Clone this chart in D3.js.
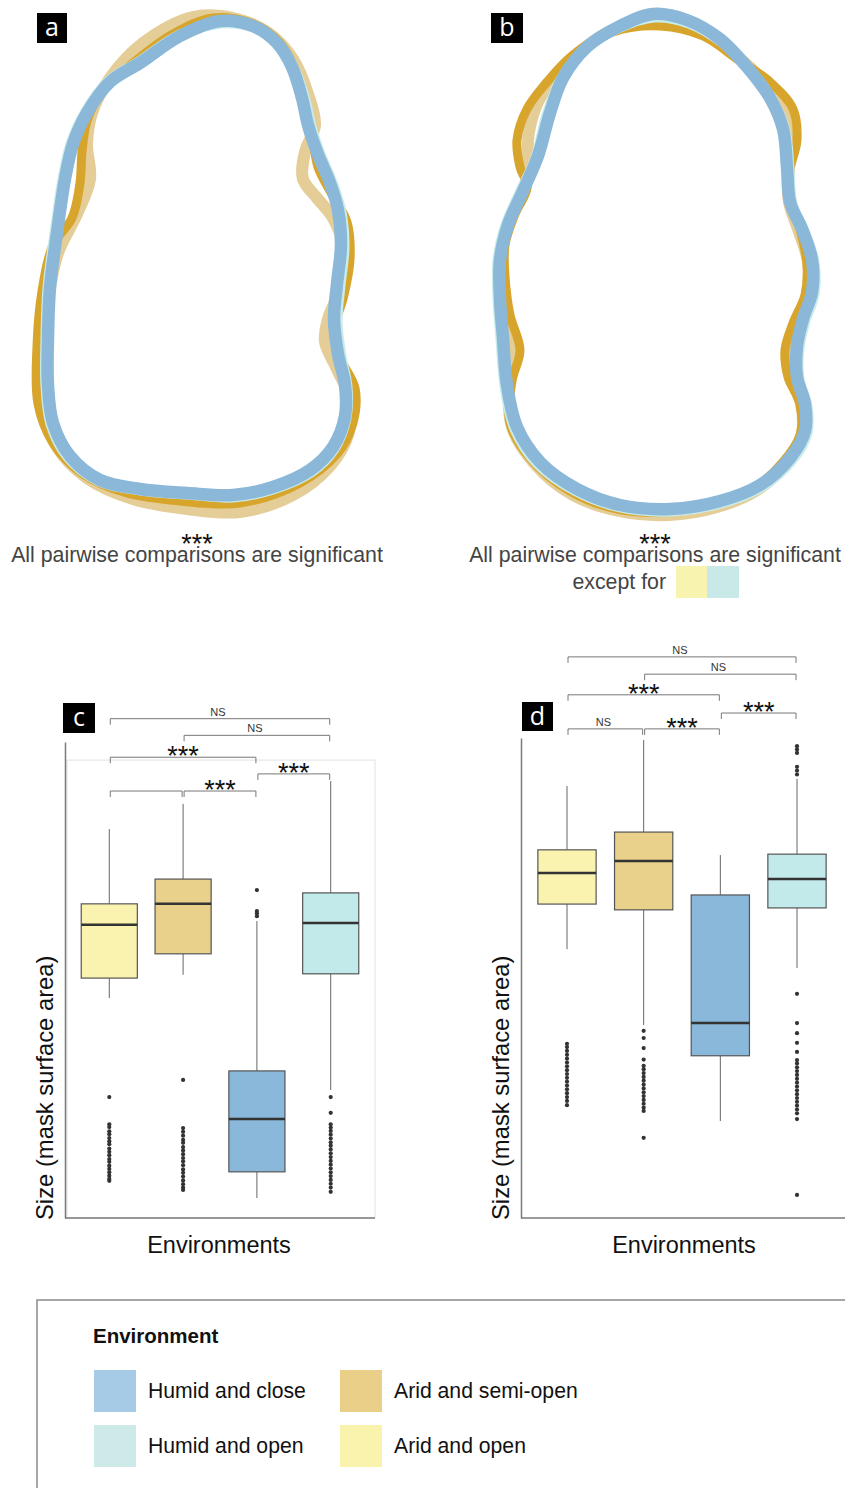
<!DOCTYPE html>
<html>
<head>
<meta charset="utf-8">
<script src="https://cdn.jsdelivr.net/npm/d3@7"></script>
<style>
  html, body { margin: 0; padding: 0; background: #ffffff; }
  svg { display: block; }
</style>
</head>
<body>
<div id="chart"></div>
<script>
// ---------------- DATA ----------------
const categories = ["Arid and open", "Arid and semi-open", "Humid and close", "Humid and open"];
const boxFills = ["#faf3b0", "#e9d08b", "#8ab8da", "#c3eaea"];

// Mean outlines (relative shape coordinates, centred on the shape centroid)
const outlineA_tan = [[-4,-241],[36,-240],[70,-226],[96,-199],[111,-164],[118,-133],[108,-106],[106,-79],[120,-60],[136,-40],[146,-13],[145,26],[131,61],[128,84],[140,111],[153,142],[151,177],[133,208],[96,237],[43,254],[-10,251],[-64,241],[-110,220],[-140,189],[-154,146],[-155,96],[-149,41],[-139,-5],[-120,-44],[-107,-79],[-110,-114],[-105,-145],[-87,-180],[-54,-215]];
const outlineA_gold = [[16,-240],[56,-234],[83,-215],[100,-184],[110,-149],[116,-118],[121,-91],[133,-67],[150,-36],[153,2],[146,41],[138,68],[143,99],[158,130],[156,165],[140,196],[103,225],[43,245],[-17,243],[-70,235],[-114,216],[-144,185],[-159,146],[-160,88],[-155,33],[-144,-13],[-125,-40],[-117,-75],[-115,-106],[-110,-137],[-94,-168],[-64,-195],[-24,-224]];
const outlineA_cyan = [[25,-235],[58,-230],[82,-213],[97,-189],[108,-158],[114,-131],[123,-104],[136,-73],[144,-46],[147,-11],[143,28],[140,63],[144,98],[150,129],[149,160],[137,191],[114,214],[76,231],[36,239],[-10,236],[-57,232],[-98,223],[-129,199],[-146,166],[-151,127],[-151,80],[-149,30],[-142,-25],[-134,-79],[-126,-114],[-112,-145],[-89,-176],[-58,-196],[-17,-223]];
const outlineA_blue = [[23,-237],[56,-232],[80,-215],[95,-191],[105,-160],[111,-133],[120,-106],[133,-75],[141,-48],[144,-13],[140,26],[137,61],[141,96],[148,127],[148,158],[136,189],[113,212],[76,229],[36,237],[-10,235],[-57,231],[-97,222],[-127,198],[-144,165],[-149,127],[-149,80],[-147,30],[-140,-25],[-132,-79],[-124,-114],[-110,-145],[-87,-176],[-57,-195],[-17,-222]];

const outlineB_tan = [[2,-240],[40,-232],[74,-212],[104,-186],[128,-158],[136,-127],[133,-93],[134,-60],[143,-33],[153,0],[152,32],[142,60],[134,87],[136,115],[146,142],[147,172],[132,200],[102,228],[62,245],[14,253],[-36,249],[-82,233],[-121,201],[-143,165],[-146,121],[-140,84],[-149,47],[-153,10],[-152,-20],[-144,-45],[-130,-72],[-128,-100],[-126,-130],[-117,-160],[-100,-185],[-76,-210],[-38,-234]];
const outlineB_gold = [[5,-236],[48,-226],[82,-203],[115,-180],[138,-153],[142,-122],[135,-91],[137,-60],[145,-33],[152,2],[150,33],[138,61],[130,88],[133,115],[145,142],[145,173],[128,200],[98,227],[58,243],[12,250],[-38,247],[-85,229],[-125,196],[-145,161],[-143,119],[-135,88],[-145,53],[-150,14],[-150,-17],[-140,-48],[-128,-75],[-135,-95],[-138,-122],[-128,-153],[-108,-180],[-82,-207],[-42,-230]];
const outlineB_cyan = [[0,-245],[34,-239],[67,-220],[94,-193],[117,-162],[130,-131],[134,-93],[137,-58],[149,-31],[159,0],[159,32],[150,59],[144,86],[144,117],[152,144],[152,171],[137,198],[106,225],[66,241],[15,249],[-35,245],[-79,229],[-117,202],[-140,167],[-150,124],[-154,77],[-157,37],[-157,-2],[-149,-37],[-134,-71],[-119,-104],[-108,-147],[-94,-182],[-70,-213],[-37,-234]];
const outlineB_blue = [[-2,-248],[32,-242],[65,-223],[92,-195],[115,-164],[128,-133],[132,-95],[135,-60],[147,-33],[157,-2],[157,30],[148,57],[142,84],[142,115],[150,142],[150,169],[135,196],[105,223],[65,239],[15,247],[-35,243],[-78,227],[-115,200],[-138,165],[-148,123],[-152,76],[-155,37],[-155,-2],[-147,-37],[-132,-71],[-117,-106],[-105,-149],[-92,-184],[-68,-215],[-35,-236]];

// Boxplot statistics, panel c (size, arbitrary units)
const c_q1 = [50.4, 55.5, 9.7, 51.3];
const c_median = [61.6, 66.0, 20.8, 62.0];
const c_q3 = [66.0, 71.2, 30.9, 68.3];
const c_whiskerLow = [46.2, 51.1, 4.2, 26.9];
const c_whiskerHigh = [81.7, 87.0, 62.4, 91.8];
const c_outliers = [
  [25.4, 19.7, 19.1, 18.2, 17.6, 16.8, 16.1, 15.5, 14.6, 13.9, 13.2, 12.4, 11.8, 11.0, 10.3, 9.6, 8.9, 8.2, 7.8],
  [29.0, 18.9, 18.1, 17.3, 16.4, 15.8, 14.9, 14.2, 13.4, 12.6, 11.9, 11.1, 10.2, 9.5, 8.7, 7.9, 7.1, 6.4, 5.9],
  [68.9, 64.5, 64.0, 63.4],
  [25.4, 22.1, 19.7, 19.0, 18.3, 17.5, 16.7, 15.9, 15.2, 14.4, 13.6, 12.8, 12.0, 11.2, 10.4, 9.6, 8.8, 8.0, 7.2, 6.4, 5.5]
];
const c_brackets = [
  {from: 0, to: 3, level: 104.9, label: "NS"},
  {from: 1, to: 3, level: 101.4, label: "NS"},
  {from: 0, to: 2, level: 96.8, label: "***"},
  {from: 2, to: 3, level: 93.3, label: "***"},
  {from: 0, to: 1, level: 89.7, label: ""},
  {from: 1, to: 2, level: 89.7, label: "***"}
];

// Boxplot statistics, panel d
const d_q1 = [65.4, 64.2, 33.8, 64.6];
const d_median = [71.9, 74.4, 40.6, 70.6];
const d_q3 = [76.7, 80.4, 67.3, 75.8];
const d_whiskerLow = [56.0, 40.2, 20.2, 52.1];
const d_whiskerHigh = [90.0, 99.6, 75.6, 91.5];
const d_outliers = [
  [36.3, 35.6, 34.8, 34.0, 33.2, 32.4, 31.6, 30.8, 30.0, 29.2, 28.4, 27.6, 26.8, 26.0, 25.2, 24.4, 23.5],
  [39.0, 37.5, 35.4, 33.0, 31.7, 31.0, 30.2, 29.4, 28.6, 27.8, 27.0, 26.2, 25.4, 24.6, 23.8, 23.0, 22.3, 16.7],
  [],
  [98.3, 97.6, 96.9, 94.0, 93.2, 92.4, 46.7, 40.6, 38.5, 36.5, 34.6, 32.9, 32.2, 31.4, 30.6, 29.8, 29.0, 28.2, 27.4, 26.6, 25.8, 25.0, 24.2, 23.4, 22.6, 21.8, 20.6, 4.8]
];
const d_brackets = [
  {from: 0, to: 3, level: 116.9, label: "NS"},
  {from: 1, to: 3, level: 113.3, label: "NS"},
  {from: 0, to: 2, level: 109.0, label: "***"},
  {from: 2, to: 3, level: 105.2, label: "***"},
  {from: 0, to: 1, level: 101.9, label: "NS"},
  {from: 1, to: 2, level: 101.9, label: "***"}
];

// Legend
const legendLabels = ["Humid and close", "Humid and open", "Arid and semi-open", "Arid and open"];
const legendColors = ["#a6cbe6", "#cde9e8", "#e9cf88", "#f9f3ae"];

// ---------------- DRAWING ----------------
const W = 845, H = 1488;
const svg = d3.select("#chart").append("svg").attr("width", W).attr("height", H);
svg.append("rect").attr("width", W).attr("height", H).attr("fill", "#ffffff");

const SANS = "'Liberation Sans', Arial, Helvetica, sans-serif";

function panelLabel(x, y, w, h, letter) {
  svg.append("rect").attr("x", x).attr("y", y).attr("width", w).attr("height", h).attr("fill", "#000");
  svg.append("text").attr("x", x + w / 2).attr("y", y + h / 2 + 8).attr("text-anchor", "middle")
    .attr("fill", "#fff").attr("font-family", "'Open Sans', 'DejaVu Sans', sans-serif").attr("font-size", 25)
    .text(letter);
}

// ---- outline panels ----
function drawOutlines(cx, cy, layers) {
  const xs = d3.scaleLinear().domain([-200, 200]).range([cx - 200, cx + 200]);
  const ys = d3.scaleLinear().domain([-250, 250]).range([cy - 250, cy + 250]);
  const line = d3.line().x(d => xs(d[0])).y(d => ys(d[1])).curve(d3.curveCatmullRomClosed.alpha(0.5));
  const g = svg.append("g");
  layers.forEach(l => {
    g.append("path").attr("d", line(l.pts)).attr("fill", "none")
      .attr("stroke", l.color).attr("stroke-width", l.width).attr("stroke-linejoin", "round");
  });
}
drawOutlines(197, 258, [
  {pts: outlineA_tan, color: "#e4cd97", width: 12},
  {pts: outlineA_gold, color: "#d8a52c", width: 9},
  {pts: outlineA_cyan, color: "#c8ecea", width: 11},
  {pts: outlineA_blue, color: "#8bb8d9", width: 12.5}
]);
drawOutlines(655, 262, [
  {pts: outlineB_tan, color: "#e4cd97", width: 12},
  {pts: outlineB_gold, color: "#d8a52c", width: 9},
  {pts: outlineB_cyan, color: "#c8ecea", width: 11},
  {pts: outlineB_blue, color: "#8bb8d9", width: 12.5}
]);
panelLabel(37, 13, 30, 30, "a");
panelLabel(491, 13, 32, 30, "b");

// captions: stars and sentence stacked in one text block
function caption(cx) {
  const t = svg.append("text").attr("text-anchor", "middle").attr("font-family", SANS);
  t.append("tspan").attr("x", cx).attr("y", 553).attr("font-size", 27).attr("fill", "#111").text("***");
  t.append("tspan").attr("x", cx).attr("y", 562).attr("font-size", 21.3).attr("fill", "#444")
    .text("All pairwise comparisons are significant");
}
caption(197);
caption(655);
svg.append("text").attr("x", 666).attr("y", 589).attr("text-anchor", "end").attr("font-family", SANS)
  .attr("font-size", 21.3).attr("fill", "#444").text("except for");
svg.append("rect").attr("x", 676).attr("y", 566).attr("width", 31).attr("height", 32).attr("fill", "#f9f3b0");
svg.append("rect").attr("x", 707).attr("y", 566).attr("width", 32).attr("height", 32).attr("fill", "#c9e9e8");

// ---- boxplot panels ----
function drawBoxplot(opt) {
  const x = d3.scalePoint().domain(categories).range(opt.xRange).padding(0.6);
  const y = d3.scaleLinear().domain([0, 100]).range(opt.yRange);
  const bw = x.step() * 0.76;
  const g = svg.append("g");

  if (opt.frame) {
    g.append("rect").attr("x", opt.xRange[0] + 2).attr("y", y(opt.frameTop))
      .attr("width", opt.xRange[1] - opt.xRange[0] - 2).attr("height", y(0) - y(opt.frameTop))
      .attr("fill", "none").attr("stroke", "#e2e2e2").attr("stroke-width", 1);
  }

  // axes (no ticks, no labels)
  const yAx = g.append("g").attr("transform", `translate(${opt.xRange[0]},0)`)
    .call(d3.axisLeft(y).tickValues([]).tickSizeOuter(0));
  yAx.select(".domain").attr("stroke", "#7a7a7a").attr("stroke-width", 1.5);
  const xAx = g.append("g").attr("transform", `translate(0,${opt.yRange[0]})`)
    .call(d3.axisBottom(x).tickValues([]).tickSizeOuter(0));
  xAx.select(".domain").attr("stroke", "#7a7a7a").attr("stroke-width", 1.5)
    .attr("d", `M${opt.xRange[0]},0H${opt.xEnd}`);

  categories.forEach((c, i) => {
    const cx = x(c);
    g.append("line").attr("x1", cx).attr("x2", cx).attr("y1", y(opt.hi[i])).attr("y2", y(opt.q3[i]))
      .attr("stroke", "#666").attr("stroke-width", 1);
    g.append("line").attr("x1", cx).attr("x2", cx).attr("y1", y(opt.q1[i])).attr("y2", y(opt.lo[i]))
      .attr("stroke", "#666").attr("stroke-width", 1);
    g.append("rect").attr("x", cx - bw / 2).attr("y", y(opt.q3[i])).attr("width", bw)
      .attr("height", y(opt.q1[i]) - y(opt.q3[i])).attr("fill", boxFills[i])
      .attr("stroke", "#555").attr("stroke-width", 1.2);
    g.append("line").attr("x1", cx - bw / 2).attr("x2", cx + bw / 2)
      .attr("y1", y(opt.med[i])).attr("y2", y(opt.med[i])).attr("stroke", "#333").attr("stroke-width", 2.5);
    g.selectAll(null).data(opt.out[i]).enter().append("circle")
      .attr("cx", cx).attr("cy", d => y(d)).attr("r", 2.1).attr("fill", "#333");
  });

  // significance brackets
  opt.brackets.forEach(b => {
    const x1 = x(categories[b.from]) + 1, x2 = x(categories[b.to]) - 1, yy = y(b.level);
    g.append("path").attr("d", `M${x1},${yy + 6}V${yy}H${x2}V${yy + 6}`)
      .attr("fill", "none").attr("stroke", "#777").attr("stroke-width", 1);
    if (b.label === "NS") {
      g.append("text").attr("x", (x1 + x2) / 2 - 2).attr("y", yy - 3).attr("text-anchor", "middle")
        .attr("font-family", SANS).attr("font-size", 11).attr("fill", "#333").text("NS");
    } else if (b.label) {
      g.append("text").attr("x", (x1 + x2) / 2).attr("y", yy + 8).attr("text-anchor", "middle")
        .attr("font-family", SANS).attr("font-size", 27).attr("fill", "#111").text(b.label);
    }
  });

  // axis titles
  g.append("text").attr("x", (opt.xRange[0] + opt.xEnd) / 2 + opt.titleShift).attr("y", 1253)
    .attr("text-anchor", "middle").attr("font-family", SANS).attr("font-size", 23.5).attr("fill", "#111")
    .text("Environments");
  g.append("text").attr("transform", `translate(${opt.xRange[0] - 12},${1220}) rotate(-90)`)
    .attr("text-anchor", "start").attr("font-family", SANS).attr("font-size", 23.8).attr("fill", "#111")
    .text("Size (mask surface area)");
}

drawBoxplot({
  xRange: [65, 375], xEnd: 375, yRange: [1218, 742], frame: true, frameTop: 96.2,
  q1: c_q1, med: c_median, q3: c_q3, lo: c_whiskerLow, hi: c_whiskerHigh, out: c_outliers,
  brackets: c_brackets, titleShift: -1
});
drawBoxplot({
  xRange: [521, 843], xEnd: 845, yRange: [1218, 738], frame: false,
  q1: d_q1, med: d_median, q3: d_q3, lo: d_whiskerLow, hi: d_whiskerHigh, out: d_outliers,
  brackets: d_brackets, titleShift: 1
});
panelLabel(63, 703, 32, 30, "c");
panelLabel(522, 702, 31, 29, "d");

// ---- legend ----
svg.append("path").attr("d", "M37,1488V1300H845").attr("fill", "none").attr("stroke", "#8a8a8a").attr("stroke-width", 1.5);
svg.append("text").attr("x", 93).attr("y", 1343).attr("font-family", SANS).attr("font-weight", "bold")
  .attr("font-size", 20.5).attr("fill", "#111").text("Environment");
const legPos = [[94, 1370], [94, 1425], [340, 1370], [340, 1425]];
legendLabels.forEach((lab, i) => {
  const [lx, ly] = legPos[i];
  svg.append("rect").attr("x", lx).attr("y", ly).attr("width", 42).attr("height", 42).attr("fill", legendColors[i]);
  svg.append("text").attr("x", lx + 54).attr("y", ly + 28).attr("font-family", SANS).attr("font-size", 21.2)
    .attr("fill", "#111").text(lab);
});
</script>
</body>
</html>
